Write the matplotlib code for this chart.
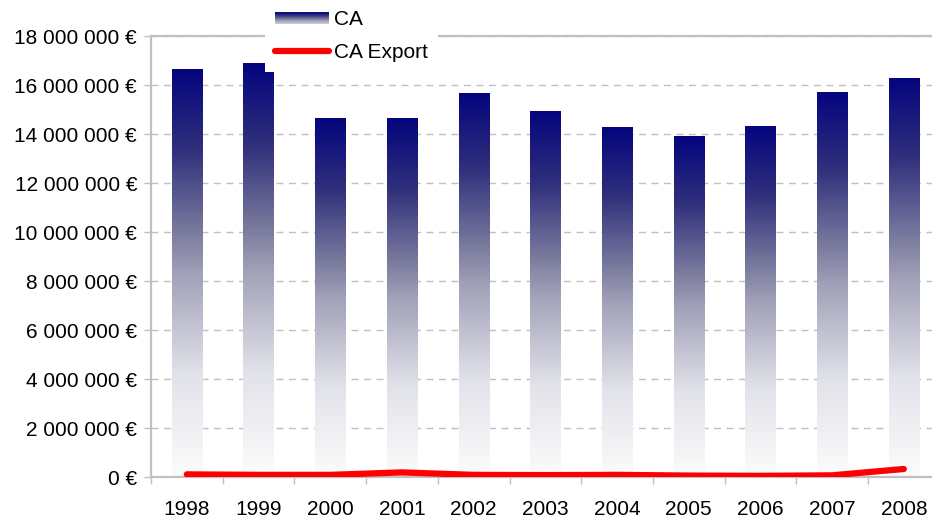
import numpy as np
import matplotlib
matplotlib.use("Agg")
from matplotlib import pyplot as plt
from matplotlib.colors import LinearSegmentedColormap
from matplotlib.legend_handler import HandlerBase
from matplotlib.patches import Rectangle
from matplotlib.lines import Line2D

plt.rcParams['font.family'] = ['Liberation Sans', 'DejaVu Sans']

years = ['1998', '1999', '2000', '2001', '2002', '2003', '2004', '2005', '2006', '2007', '2008']
ca = [16.67e6, 16.91e6, 14.67e6, 14.67e6, 15.69e6, 14.95e6, 14.30e6, 13.93e6, 14.34e6, 15.73e6, 16.30e6]
ca_export = [0.12e6, 0.10e6, 0.10e6, 0.20e6, 0.10e6, 0.09e6, 0.10e6, 0.07e6, 0.06e6, 0.08e6, 0.34e6]
y_ticks = [0, 2e6, 4e6, 6e6, 8e6, 10e6, 12e6, 14e6, 16e6, 18e6]

grey = '#c0c0c0'
navy_cmap = LinearSegmentedColormap.from_list(
    'navy_fade', [(0.0, '#04047e'), (0.2, '#30307c'), (0.4, '#7a7a9e'),
                  (0.5, '#a0a0b8'), (0.75, '#e2e2ea'), (1.0, '#fcfcfc')])

fig = plt.figure(figsize=(9.32, 5.17), dpi=100)
W, H = 932, 517
ax = fig.add_axes([151 / W, (H - 477.3) / H, 788.7 / W, 441 / H])

x = np.arange(len(years))
bars = ax.bar(x, ca, width=0.42, facecolor='none', edgecolor='none', zorder=2)
grad = np.linspace(0, 1, 256).reshape(-1, 1)
for b in bars:
    x0, w, h = b.get_x(), b.get_width(), b.get_height()
    im = ax.imshow(grad, cmap=navy_cmap, aspect='auto', origin='upper',
                   extent=[x0, x0 + w, 0, h], zorder=2, interpolation='bilinear')
    im.set_clip_path(b)

ax.plot(x, ca_export, color='#ff0000', lw=4.5, solid_capstyle='round',
        solid_joinstyle='round', zorder=4)

ax.set_xlim(-0.5, len(years) - 0.5)
ax.set_ylim(0, 18e6)
ax.set_yticks(y_ticks)
ax.set_yticklabels([f"{int(v):,} €".replace(',', ' ') for v in y_ticks])
ax.set_xticks(x)
ax.set_xticklabels(years)
ax.set_xticks(np.arange(-0.5, len(years)), minor=True)
ax.tick_params(axis='x', which='major', length=0, pad=16, labelsize=15)
ax.tick_params(axis='x', which='minor', length=5, width=1, color=grey, direction='out')
ax.tick_params(axis='y', length=5, width=1, color=grey, pad=5, labelsize=15)
ax.grid(axis='y', color=grey, linestyle=(0, (5, 4)), linewidth=1)
ax.set_axisbelow(True)
for side in ['left', 'top', 'bottom', 'right']:
    ax.spines[side].set_color(grey)
    ax.spines[side].set_linewidth(1.6)


class GradientHandler(HandlerBase):
    def create_artists(self, legend, orig_handle, xdescent, ydescent,
                       width, height, fontsize, trans):
        n = 12
        hgt = height * 0.75
        y0 = -ydescent + (height - hgt) / 2
        arts = []
        for i in range(n):
            c = navy_cmap(0.05 + 0.6 * (n - 1 - i) / (n - 1))
            r = Rectangle((-xdescent, y0 + i * hgt / n), width, hgt / n + 0.2,
                          facecolor=c, edgecolor='none', transform=trans)
            arts.append(r)
        return arts


ca_handle = Rectangle((0, 0), 1, 1)
exp_handle = Line2D([0], [0], color='#ff0000', lw=4.5, solid_capstyle='round')
leg = ax.legend([ca_handle, exp_handle], ['CA', 'CA Export'],
                handler_map={Rectangle: GradientHandler()},
                loc='upper left', bbox_to_anchor=(265 / W, 1.0),
                bbox_transform=fig.transFigure, borderaxespad=0,
                fontsize=15, frameon=True, fancybox=False, framealpha=1,
                facecolor='white', edgecolor='none', handlelength=2.55,
                handletextpad=0.25, labelspacing=0.65, borderpad=0.5)
leg.set_zorder(10)

fig.savefig('out.png', dpi=100)
